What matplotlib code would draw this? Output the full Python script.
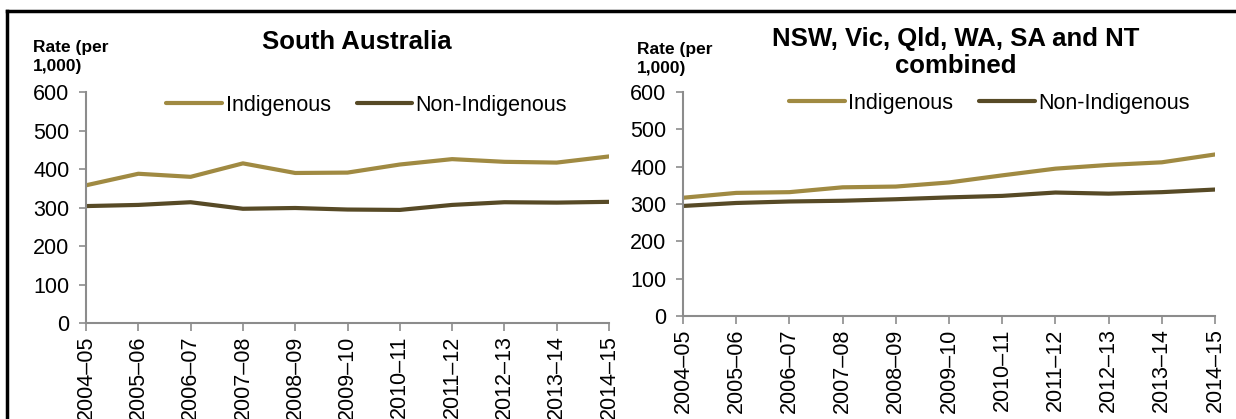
import matplotlib.pyplot as plt
from matplotlib.lines import Line2D

plt.rcParams['font.family'] = ['Liberation Sans', 'DejaVu Sans']

years = ["2004–05", "2005–06", "2006–07", "2007–08", "2008–09", "2009–10",
         "2010–11", "2011–12", "2012–13", "2013–14", "2014–15"]

sa_indig = [358, 388, 380, 415, 390, 391, 412, 426, 419, 417, 433]
sa_non = [304, 307, 314, 297, 299, 295, 294, 307, 314, 313, 315]

comb_indig = [317, 330, 332, 345, 347, 358, 377, 395, 405, 412, 433]
comb_non = [295, 303, 307, 309, 313, 318, 322, 331, 328, 332, 339]

c_indig = "#a08a42"
c_non = "#574a26"
grey = "#8c8c8c"
fs = 15.5

fig = plt.figure(figsize=(12.36, 4.19), dpi=100)
ax1 = fig.add_axes([0.0696, 0.229, 0.4231, 0.551])
ax2 = fig.add_axes([0.5526, 0.2458, 0.4304, 0.5342])

panels = [
    (ax1, sa_indig, sa_non, (0.537, 0.944)),
    (ax2, comb_indig, comb_non, (0.575, 0.951)),
]

for ax, ind, non, leg_anchor in panels:
    x = list(range(len(years)))
    ax.plot(x, ind, color=c_indig, lw=3, label="Indigenous", solid_capstyle="round")
    ax.plot(x, non, color=c_non, lw=3, label="Non-Indigenous", solid_capstyle="round")
    ax.set_xlim(0, len(years) - 1)
    ax.set_ylim(0, 600)
    ax.set_yticks(range(0, 601, 100))
    ax.set_xticks(x)
    ax.set_xticklabels(years, rotation=90, fontsize=fs)
    ax.tick_params(axis="y", labelsize=fs, length=5, color=grey, width=1.2, pad=7)
    ax.tick_params(axis="x", length=6, color=grey, width=1.2, pad=3)
    for s in ["top", "right"]:
        ax.spines[s].set_visible(False)
    for s in ["left", "bottom"]:
        ax.spines[s].set_color(grey)
        ax.spines[s].set_linewidth(1.5)
    ax.legend(loc="center", bbox_to_anchor=leg_anchor, ncol=2, frameon=False,
              fontsize=fs, handlelength=2.6, handletextpad=0.15, columnspacing=1.2,
              borderpad=0, borderaxespad=0)

fig.text(0.027, 0.864, "Rate (per\n1,000)", fontsize=12.5, fontweight="bold",
         ha="left", va="center", linespacing=1.4)
fig.text(0.5154, 0.859, "Rate (per\n1,000)", fontsize=12.5, fontweight="bold",
         ha="left", va="center", linespacing=1.4)
fig.text(0.289, 0.90, "South Australia", fontsize=18.5, fontweight="bold",
         ha="center", va="center")
fig.text(0.773, 0.874, "NSW, Vic, Qld, WA, SA and NT\ncombined", fontsize=18.5,
         fontweight="bold", ha="center", va="center", linespacing=1.15)

# outer frame (top and left edges)
fig.add_artist(Line2D([0.0057, 1.0], [0.974, 0.974], color="black", lw=2.5))
fig.add_artist(Line2D([0.0057, 0.0057], [0.0, 0.974], color="black", lw=2.5))

fig.savefig("out.png", dpi=100)
